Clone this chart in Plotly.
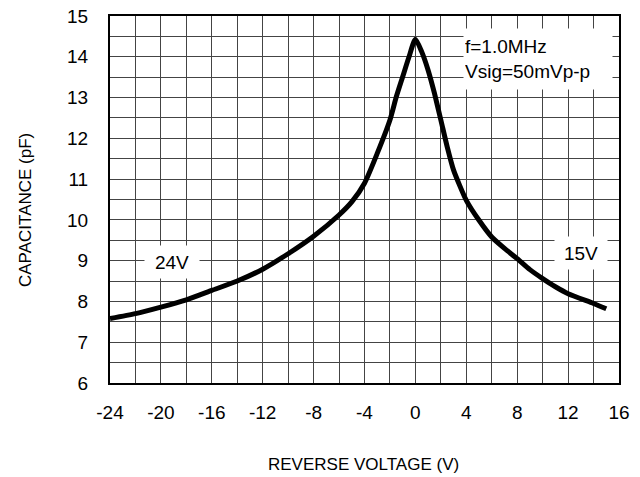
import plotly.graph_objects as go

# Reverse voltage (V) and capacitance (pF)
voltage = [-24, -22, -20, -18, -16, -14, -12, -10, -8, -6, -5, -4, -3, -2, -1.5, -1, -0.5, 0,
           0.5, 1, 1.5, 2, 2.5, 3, 4, 5, 6, 7, 8, 9, 10, 11, 12, 14, 15]
capacitance = [7.58, 7.70, 7.86, 8.04, 8.27, 8.50, 8.79, 9.17, 9.60, 10.12, 10.44, 10.90, 11.63,
               12.45, 13.02, 13.51, 14.00, 14.43, 14.12, 13.67, 13.10, 12.45, 11.79, 11.22, 10.48,
               9.99, 9.58, 9.30, 9.05, 8.78, 8.56, 8.36, 8.19, 7.95, 7.82]

x_ticks = [-24, -20, -16, -12, -8, -4, 0, 4, 8, 12, 16]
y_ticks = [6, 7, 8, 9, 10, 11, 12, 13, 14, 15]

FONT = "Liberation Sans, Arial, sans-serif"
TICK_SIZE = 19

W, H = 640, 477
PL, PR, PT, PB = 110, 619, 16, 383          # plot-area edges in pixels
pw, ph = PR - PL, PB - PT


def px_to_paper(px, py):
    return (px - PL) / pw, (PB - py) / ph


fig = go.Figure()
fig.add_trace(go.Scatter(
    x=voltage, y=capacitance, mode="lines",
    line=dict(color="black", width=5, shape="spline", smoothing=0.6),
    hoverinfo="skip", showlegend=False,
))

fig.update_layout(
    width=W, height=H,
    margin=dict(l=PL, r=W - PR, t=PT, b=H - PB, pad=0),
    paper_bgcolor="white", plot_bgcolor="white",
    font=dict(family=FONT, color="black", size=TICK_SIZE),
    xaxis=dict(
        range=[-24, 16], tickvals=x_ticks, ticktext=[str(v) for v in x_ticks],
        showgrid=False, zeroline=False, showline=True, linecolor="black", linewidth=2,
        mirror=True, ticks="", tickfont=dict(size=TICK_SIZE), automargin=False,
        ticklabelstandoff=11,
    ),
    yaxis=dict(
        range=[6, 15], tickvals=y_ticks, ticktext=[str(v) for v in y_ticks],
        showgrid=False, zeroline=False, showline=True, linecolor="black", linewidth=2,
        mirror=True, ticks="", tickfont=dict(size=TICK_SIZE), automargin=False,
        ticklabelstandoff=16,
    ),
)

# Grid: every 2 V and every 0.5 pF
fig.update_xaxes(minor=dict(dtick=2, tick0=0, showgrid=True, gridcolor="#444", gridwidth=1))
fig.update_yaxes(minor=dict(dtick=0.5, tick0=0, showgrid=True, gridcolor="#444", gridwidth=1))

# Axis titles
tx, ty = px_to_paper(363, 464)
fig.add_annotation(x=tx, y=ty, xref="paper", yref="paper", xanchor="center", yanchor="middle",
                   text="REVERSE VOLTAGE (V)", showarrow=False, font=dict(size=17))
tx, ty = px_to_paper(25, 210)
fig.add_annotation(x=tx, y=ty, xref="paper", yref="paper", xanchor="center", yanchor="middle",
                   text="CAPACITANCE (pF)", textangle=-90, showarrow=False, font=dict(size=17))

# In-plot labels
fig.add_annotation(
    x=3.73, y=14.71, xref="x", yref="y", xanchor="left", yanchor="top",
    text="f=1.0MHz<br>Vsig=50mVp-p", align="left", showarrow=False,
    bgcolor="white", width=146, height=58, font=dict(size=TICK_SIZE),
)
fig.add_annotation(
    x=-19.1, y=8.97, xref="x", yref="y", text="24V", showarrow=False,
    bgcolor="white", width=52, height=30, font=dict(size=TICK_SIZE),
)
fig.add_annotation(
    x=13.0, y=9.18, xref="x", yref="y", text="15V", showarrow=False,
    bgcolor="white", width=50, height=30, font=dict(size=TICK_SIZE),
)

fig.write_html("out.html", config={"displayModeBar": False, "staticPlot": True},
               post_script="document.body.style.margin='0px';")
